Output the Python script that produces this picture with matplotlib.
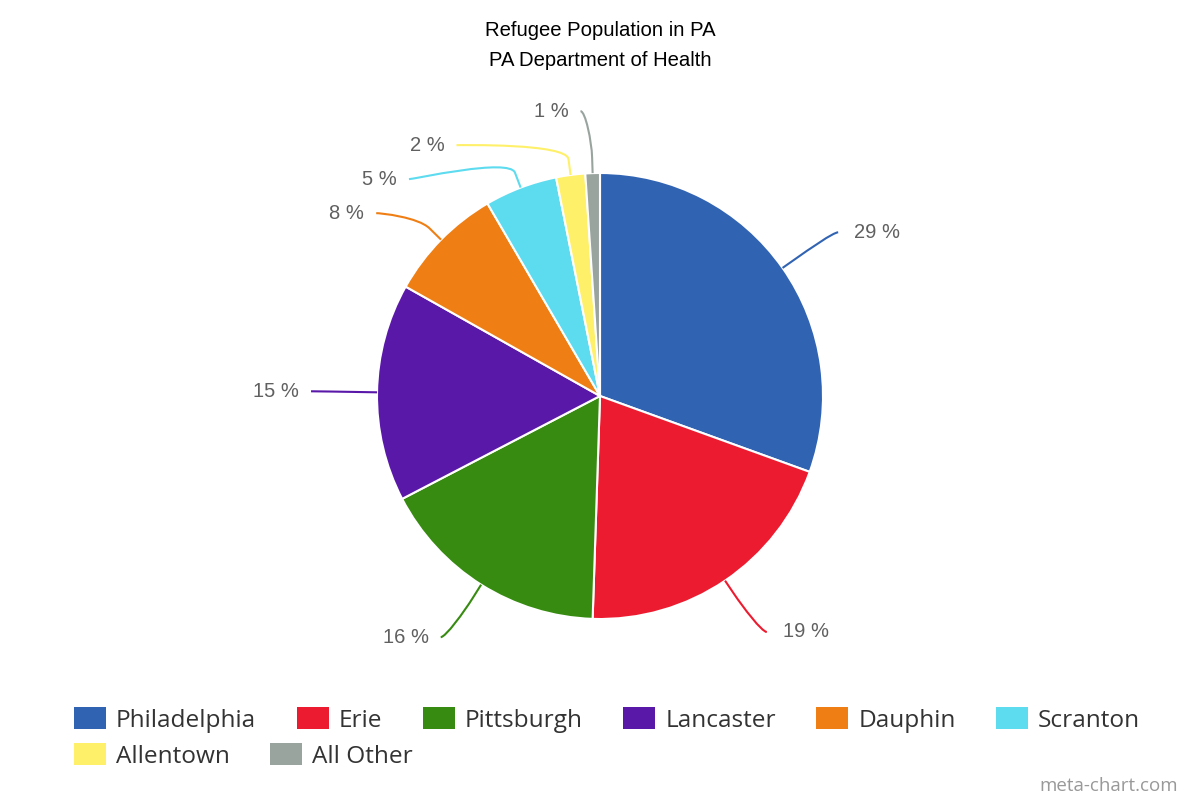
import numpy as np
import matplotlib.pyplot as plt
from matplotlib.path import Path
from matplotlib.patches import PathPatch, Patch

# data
cities = ['Philadelphia', 'Erie', 'Pittsburgh', 'Lancaster', 'Dauphin',
          'Scranton', 'Allentown', 'All Other']
values = [29, 19, 16, 15, 8, 5, 2, 1]
colors = ['#3163b3', '#ed1b2f', '#378b11', '#5a18a9', '#ef7f14',
          '#5ddbef', '#fff06a', '#9aa49f']

fig = plt.figure(figsize=(12, 8), dpi=100)
ax = fig.add_axes([0, 0, 1, 1])

# pie drawn in pixel-like data units (y up)
cx, cy, r = 600, 404, 223
wedges, _ = ax.pie(values, colors=colors, startangle=90, counterclock=False,
                   center=(cx, cy), radius=r,
                   wedgeprops=dict(edgecolor='white', linewidth=1.5))
ax.set_xlim(0, 1200)
ax.set_ylim(0, 800)
ax.set_aspect('equal')
ax.axis('off')

# label placement (highcharts style: push labels apart on each side)
mids = np.deg2rad([(w.theta1 + w.theta2) / 2 for w in wedges])
ly = 285 * np.sin(mids)
side = np.sign(np.cos(mids))
for s in (1, -1):
    idx = [i for i in np.argsort(-ly) if side[i] == s]
    prev = None
    for i in idx:
        if prev is not None:
            ly[i] = min(ly[i], prev - 34)
        prev = ly[i]
lx = side * np.sqrt(np.maximum(289 ** 2 - ly ** 2, 0))
# the label sitting right on top of the pie stays close to it
lx = np.where(np.abs(lx) < 60, lx * 0.4, lx)

for i, a in enumerate(mids):
    tx, ty = cx + r * np.cos(a), cy + r * np.sin(a)
    bx, by = cx + (r + 16) * np.cos(a), cy + (r + 16) * np.sin(a)
    px, py = cx + lx[i], cy + ly[i]
    verts = [(px, py), (px - 5 * side[i], py), (2 * bx - tx, 2 * by - ty),
             (bx, by), (tx, ty)]
    codes = [Path.MOVETO, Path.CURVE4, Path.CURVE4, Path.CURVE4, Path.LINETO]
    ax.add_patch(PathPatch(Path(verts, codes), facecolor='none',
                           edgecolor=colors[i], lw=1.5))
    if side[i] > 0:
        ax.text(px + 16, py, f'{values[i]} %', ha='left', va='center',
                fontsize=14.5, color='#606060', family='Liberation Sans')
    else:
        ax.text(px - 12, py, f'{values[i]} %', ha='right', va='center',
                fontsize=14.5, color='#606060', family='Liberation Sans')

# title
ax.text(600, 769, 'Refugee Population in PA', ha='center', va='center',
        fontsize=14.6, color='#000000', family='Liberation Sans')
ax.text(600, 739, 'PA Department of Health', ha='center', va='center',
        fontsize=14.6, color='#000000', family='Liberation Sans')

# legend, two rows laid out left to right
fs = 17.6
fs_px = fs * 100 / 72
handles = [Patch(facecolor=c, edgecolor='none') for c in colors]
kw = dict(frameon=False, handlelength=32 / fs_px,
          handleheight=24 / fs_px, handletextpad=10 / fs_px,
          columnspacing=40.5 / fs_px, borderpad=0, borderaxespad=0,
          loc='center left', labelcolor='#333333',
          prop=dict(family='Open Sans', size=fs))
leg1 = ax.legend(handles[:6], cities[:6], ncol=6,
                 bbox_to_anchor=(74 / 1200, 80 / 800), **kw)
ax.add_artist(leg1)
leg2 = ax.legend(handles[6:], cities[6:], ncol=2,
                 bbox_to_anchor=(74 / 1200, 44 / 800), **kw)

fig.text(1178 / 1200, 1 - 786 / 800, 'meta-chart.com', ha='right',
         va='center', fontsize=13.5, color='#999999', family='Open Sans')

fig.savefig('out.png', dpi=100, facecolor='white')
